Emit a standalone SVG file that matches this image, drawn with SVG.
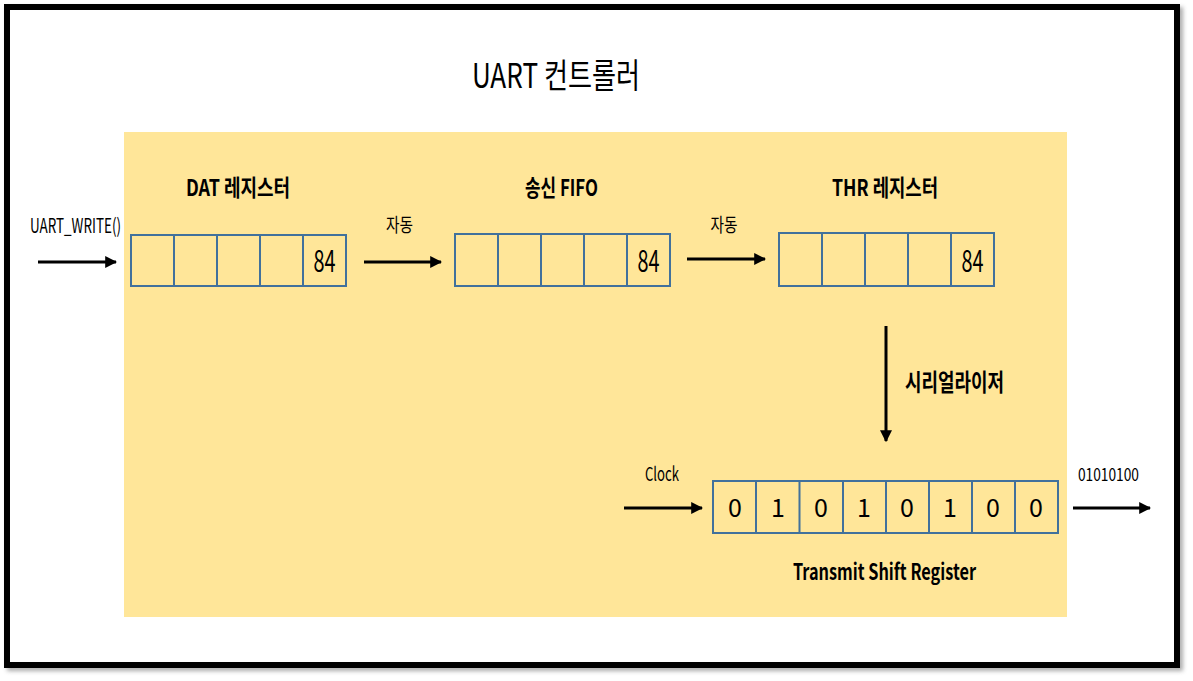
<svg xmlns="http://www.w3.org/2000/svg" width="1193" height="681" viewBox="0 0 1193 681">
<style>
.t{font-family:"Malgun Gothic","Noto Sans CJK KR","Noto Sans",sans-serif;fill:#000}
.b{font-weight:bold}
.cell{fill:none;stroke:#41719C;stroke-width:2}
.ln{stroke:#000;stroke-width:3;fill:none}
</style>
<defs>
<marker id="ah" viewBox="0 0 10 10" refX="9" refY="5" markerWidth="4" markerHeight="4" markerUnits="strokeWidth" orient="auto">
<path d="M0,0 L10,5 L0,10 z" fill="#000"/>
</marker>
<filter id="sh" x="-5%" y="-5%" width="110%" height="110%"><feGaussianBlur stdDeviation="2"/></filter>
</defs>
<rect width="1193" height="681" fill="#fff"/>
<rect x="10" y="10" width="1170" height="658" fill="none" stroke="#888" stroke-width="6" filter="url(#sh)" opacity="0.7"/>
<rect x="7" y="7" width="1170" height="658" fill="#fff" stroke="#000" stroke-width="6"/>
<rect id="controller" x="124" y="132" width="943" height="485" fill="#FFE699"/>
<text class="t" x="556" y="88" font-size="34" text-anchor="middle" textLength="168" lengthAdjust="spacingAndGlyphs">UART 컨트롤러</text>

<g id="dat">
<text class="t b" x="238" y="196" font-size="23" text-anchor="middle" textLength="104" lengthAdjust="spacingAndGlyphs">DAT 레지스터</text>
<rect class="cell" x="131" y="235" width="215" height="51"/>
<path class="cell" d="M174,235V286M217,235V286M260,235V286M303,235V286"/>
<text class="t" x="324.5" y="272" font-size="30" text-anchor="middle" textLength="22" lengthAdjust="spacingAndGlyphs">84</text>
</g>
<g id="fifo">
<text class="t b" x="561.5" y="196" font-size="23" text-anchor="middle" textLength="73" lengthAdjust="spacingAndGlyphs">송신 FIFO</text>
<rect class="cell" x="455" y="234" width="215" height="52"/>
<path class="cell" d="M498,234V286M541,234V286M584,234V286M627,234V286"/>
<text class="t" x="648.5" y="272" font-size="30" text-anchor="middle" textLength="22" lengthAdjust="spacingAndGlyphs">84</text>
</g>
<g id="thr">
<text class="t b" x="885" y="196" font-size="23" text-anchor="middle" textLength="106" lengthAdjust="spacingAndGlyphs">THR 레지스터</text>
<rect class="cell" x="779" y="233" width="215" height="53"/>
<path class="cell" d="M822,233V286M865,233V286M908,233V286M951,233V286"/>
<text class="t" x="972.5" y="272" font-size="30" text-anchor="middle" textLength="22" lengthAdjust="spacingAndGlyphs">84</text>
</g>
<g id="tsr">
<rect class="cell" x="713" y="481" width="345" height="52"/>
<path class="cell" d="M756,481V533M799.5,481V533M843,481V533M886,481V533M929,481V533M972,481V533M1015,481V533"/>
<g class="t" font-size="25" text-anchor="middle">
<text x="735" y="517">0</text>
<text x="778" y="517">1</text>
<text x="821" y="517">0</text>
<text x="864" y="517">1</text>
<text x="907" y="517">0</text>
<text x="950" y="517">1</text>
<text x="993" y="517">0</text>
<text x="1036" y="517">0</text>
</g>
<text class="t b" x="884.5" y="580" font-size="22" text-anchor="middle" textLength="183" lengthAdjust="spacingAndGlyphs">Transmit Shift Register</text>
</g>

<g id="connectors">
<line class="ln" x1="38" y1="262" x2="116" y2="262" marker-end="url(#ah)"/>
<line class="ln" x1="364" y1="262" x2="441" y2="262" marker-end="url(#ah)"/>
<line class="ln" x1="687" y1="259" x2="765" y2="259" marker-end="url(#ah)"/>
<line class="ln" x1="886" y1="326" x2="886" y2="441" marker-end="url(#ah)"/>
<line class="ln" x1="624" y1="508" x2="702" y2="508" marker-end="url(#ah)"/>
<line class="ln" x1="1073" y1="508" x2="1150" y2="508" marker-end="url(#ah)"/>
</g>
<g id="labels">
<text class="t" x="75.5" y="233" font-size="20" text-anchor="middle" textLength="91" lengthAdjust="spacingAndGlyphs">UART_WRITE()</text>
<text class="t" x="399.5" y="232" font-size="19" text-anchor="middle" textLength="27" lengthAdjust="spacingAndGlyphs">자동</text>
<text class="t" x="724" y="232" font-size="19" text-anchor="middle" textLength="27" lengthAdjust="spacingAndGlyphs">자동</text>
<text class="t b" x="954.5" y="391" font-size="24" text-anchor="middle" textLength="99" lengthAdjust="spacingAndGlyphs">시리얼라이저</text>
<text class="t" x="662" y="481" font-size="19" text-anchor="middle" textLength="34" lengthAdjust="spacingAndGlyphs">Clock</text>
<text class="t" x="1108.5" y="481" font-size="18" text-anchor="middle" textLength="61" lengthAdjust="spacingAndGlyphs">01010100</text>
</g>
</svg>
